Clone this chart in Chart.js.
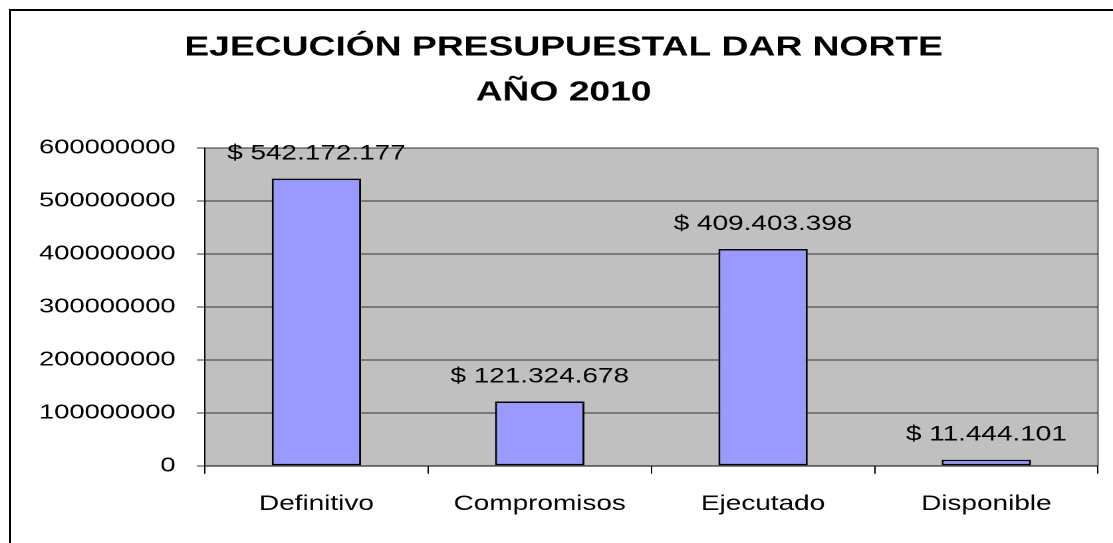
<!DOCTYPE html>
<html>
<head>
<meta charset="utf-8">
<script src="https://cdn.jsdelivr.net/npm/chart.js@4"></script>
<style>
  body { margin: 0; background: #fff; overflow: hidden; width: 1113px; height: 543px; }
  #wrap { position: absolute; left: 0; top: 0; width: 837px; height: 543px; transform: scaleX(1.32975); transform-origin: 0 0; }
  #frame { position: absolute; left: 9px; top: 9px; width: 1300px; height: 800px; border: 2px solid #000; }
</style>
</head>
<body>
<div id="wrap"><canvas id="chart" width="837" height="543"></canvas></div>
<div id="frame"></div>
<script>
const categories = ['Definitivo', 'Compromisos', 'Ejecutado', 'Disponible'];
const values = [542172177, 121324678, 409403398, 11444101];
const titleLines = ['EJECUCIÓN PRESUPUESTAL DAR NORTE', 'AÑO 2010'];
const yMin = 0;
const yMax = 600000000;
const yStep = 100000000;

function money(v) {
  return '$ ' + String(v).replace(/\B(?=(\d{3})+(?!\d))/g, '.');
}

// gray plot area with darker right edge
const plotBg = {
  id: 'plotBg',
  beforeDraw(chart) {
    const { ctx, chartArea: a } = chart;
    ctx.save();
    ctx.fillStyle = '#C0C0C0';
    ctx.fillRect(a.left, a.top, a.right - a.left, a.bottom - a.top);
    ctx.strokeStyle = '#808080';
    ctx.lineWidth = 1.5;
    ctx.beginPath();
    ctx.moveTo(a.right, a.top);
    ctx.lineTo(a.right, a.bottom);
    ctx.stroke();
    ctx.restore();
  }
};

// value labels above the bars
const barLabels = {
  id: 'barLabels',
  afterDatasetsDraw(chart) {
    const ctx = chart.ctx;
    const meta = chart.getDatasetMeta(0);
    ctx.save();
    ctx.font = '21px "Liberation Sans", Arial, sans-serif';
    ctx.fillStyle = '#000';
    ctx.textAlign = 'center';
    ctx.textBaseline = 'alphabetic';
    meta.data.forEach((bar, i) => {
      ctx.fillText(money(values[i]), bar.x, bar.y - 19);
    });
    ctx.restore();
  }
};

new Chart(document.getElementById('chart'), {
  type: 'bar',
  data: {
    labels: categories,
    datasets: [{
      data: values,
      backgroundColor: '#9999FF',
      borderColor: '#000',
      borderWidth: 1.5,
      borderSkipped: false,
      barPercentage: 0.4,
      categoryPercentage: 1
    }]
  },
  options: {
    responsive: false,
    animation: false,
    devicePixelRatio: 2,
    layout: { padding: { left: 22, right: 11.3, top: 0, bottom: 8 } },
    plugins: {
      legend: { display: false },
      tooltip: { enabled: false },
      title: {
        display: true,
        text: titleLines,
        color: '#000',
        font: { family: '"Liberation Sans", Arial, sans-serif', size: 28, weight: 'bold', lineHeight: 1.6 },
        padding: { top: 25.5, bottom: 32.9 }
      }
    },
    scales: {
      x: {
        grid: { display: true, drawOnChartArea: false, drawTicks: true, tickLength: 8, color: '#000', offset: true },
        border: { color: '#000', width: 1 },
        ticks: { color: '#000', padding: 18, font: { family: '"Liberation Sans", Arial, sans-serif', size: 21 } }
      },
      y: {
        min: yMin,
        max: yMax,
        afterFit(scale) { scale.width = 132; },
        grid: { color: '#333', lineWidth: 1, tickLength: 6, drawTicks: true },
        border: { color: '#000', width: 1 },
        ticks: {
          stepSize: yStep,
          color: '#000',
          padding: 16,
          font: { family: '"Liberation Sans", Arial, sans-serif', size: 20.5 },
          callback: v => String(v)
        }
      }
    }
  },
  plugins: [plotBg, barLabels]
});
</script>
</body>
</html>
